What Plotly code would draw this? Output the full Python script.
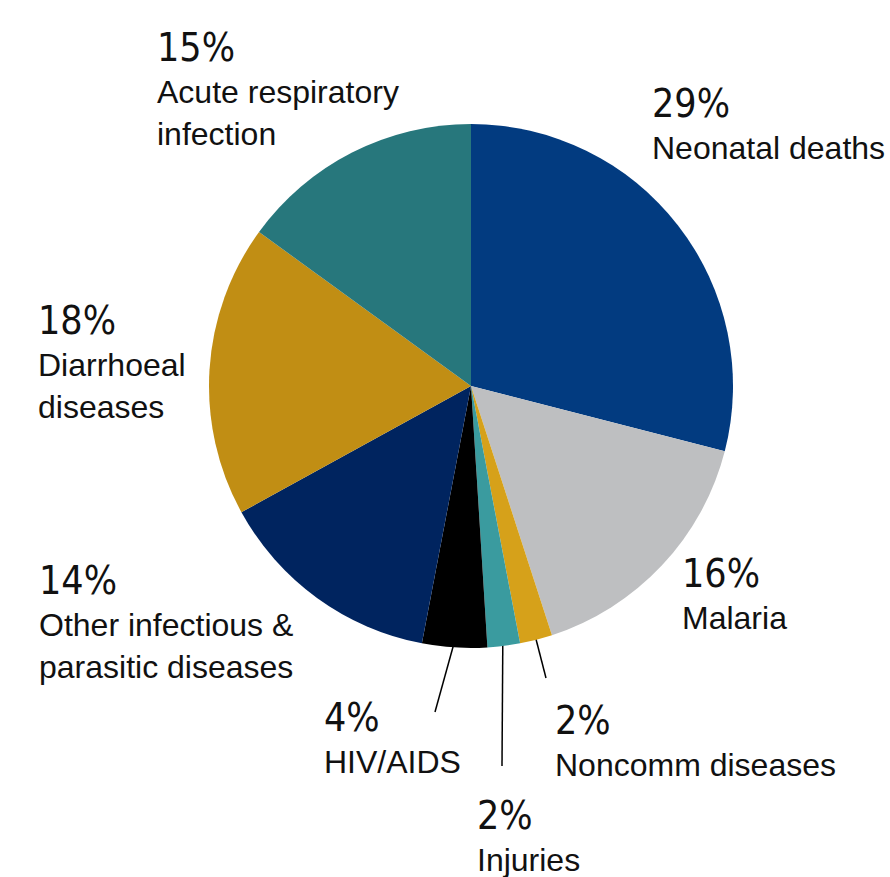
import math
import plotly.graph_objects as go

W, H = 890, 877

categories = ["Neonatal deaths", "Malaria", "Noncomm diseases", "Injuries",
              "HIV/AIDS", "Other infectious & parasitic diseases",
              "Diarrhoeal diseases", "Acute respiratory infection"]
values = [29, 16, 2, 2, 4, 14, 18, 15]
colors = ["#023B80", "#BEBFC1", "#D6A11A", "#3A9B9F",
          "#000000", "#00245F", "#C18E14", "#27777C"]
pct_labels = ["29%", "16%", "2%", "2%", "4%", "14%", "18%", "15%"]
name_lines = [["Neonatal deaths"], ["Malaria"], ["Noncomm diseases"], ["Injuries"],
              ["HIV/AIDS"], ["Other infectious &", "parasitic diseases"],
              ["Diarrhoeal", "diseases"], ["Acute respiratory", "infection"]]

# label placement (left x, baseline of percent line) in pixels
label_pos = [(653, 118), (683, 588), (556, 735), (478, 830),
             (325, 732), (40, 595), (39, 335), (158, 62)]
line_gap = 42
# leader line end points for small slices (pixels)
leader_end = {2: (546, 678), 3: (502, 766), 4: (435, 712)}

cx, cy, r = 471, 386, 262
PAD = 3  # annotation inner padding

def px(x):
    return x / W

def py(y):
    return 1 - y / H

fig = go.Figure(go.Pie(
    labels=categories, values=values, sort=False, direction="clockwise",
    rotation=0, marker=dict(colors=colors, line=dict(width=0)),
    textinfo="none", hoverinfo="label+percent", showlegend=False,
    domain=dict(x=[px(cx - r), px(cx + r)], y=[py(cy + r), py(cy - r)]),
))

PCT_FONT = dict(family="Liberation Sans Narrow, Arial Narrow, DejaVu Sans Condensed, sans-serif",
                size=39, color="#111111")
NAME_FONT = dict(family="Liberation Sans, Arial, sans-serif", size=32, color="#111111")

ann = []
for i, (lx, base) in enumerate(label_pos):
    ann.append(dict(x=px(lx - PAD), y=py(base - 0.36 * PCT_FONT["size"]), xref="paper", yref="paper",
                    text=pct_labels[i], showarrow=False, xanchor="left", yanchor="middle",
                    font=PCT_FONT))
    for k, t in enumerate(name_lines[i]):
        b = base + line_gap * (k + 1)
        ann.append(dict(x=px(lx - PAD), y=py(b - 0.36 * NAME_FONT["size"]), xref="paper", yref="paper",
                        text=t, showarrow=False, xanchor="left", yanchor="middle",
                        font=NAME_FONT))

shapes = []
total = sum(values)
cum = 0
for i, v in enumerate(values):
    mid = (cum + v / 2) / total * 2 * math.pi
    cum += v
    if i in leader_end:
        sx = cx + (r - 8) * math.sin(mid)
        sy = cy - (r - 8) * math.cos(mid)
        ex, ey = leader_end[i]
        shapes.append(dict(type="line", xref="paper", yref="paper",
                           x0=px(sx), y0=py(sy), x1=px(ex), y1=py(ey),
                           line=dict(color="#000000", width=1.5), layer="below"))

fig.update_layout(
    width=W, height=H, margin=dict(l=0, r=0, t=0, b=0),
    paper_bgcolor="white", plot_bgcolor="white",
    annotations=ann, shapes=shapes,
)
fig.write_html("out.html")
